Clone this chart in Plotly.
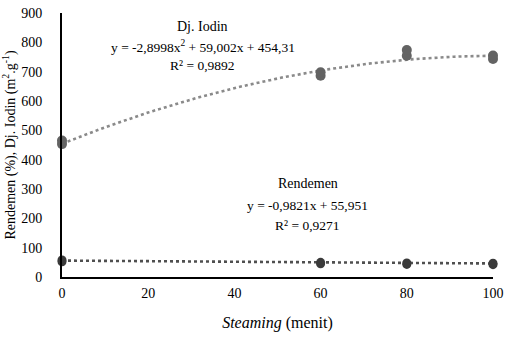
import plotly.graph_objects as go

# ---- data ----
steaming = [0, 60, 80, 100]                      # minutes
# duplicate readings per steaming time
iodin_rep1 = [453, 686, 754, 743]
iodin_rep2 = [465, 698, 774, 755]
rend_rep1 = [52, 45, 43, 42]
rend_rep2 = [58, 50, 48, 47]

# trendline equations printed on the chart (x in tens of minutes)
iodin_coef = [-2.8998, 59.002, 454.31]          # a, b, c of ax^2 + bx + c
rend_coef = [-0.9821, 55.951]                    # slope, intercept
x_ticks = [0, 20, 40, 60, 80, 100]
y_ticks = [0, 100, 200, 300, 400, 500, 600, 700, 800, 900]

iodin_label = ["Dj. Iodin", "y = -2,8998x<sup>2</sup> + 59,002x + 454,31", "R² = 0,9892"]
rend_label = ["Rendemen", "y = -0,9821x + 55,951", "R² = 0,9271"]

FONT = "Liberation Serif, serif"

xs = [i for i in range(0, 101)]
iodin_fit = [iodin_coef[0] * (x / 10) ** 2 + iodin_coef[1] * (x / 10) + iodin_coef[2] for x in xs]
rend_fit = [rend_coef[0] * (x / 10) + rend_coef[1] for x in xs]

fig = go.Figure()
fig.add_trace(go.Scatter(x=xs, y=iodin_fit, mode="lines",
                         line=dict(color="#8a8a8a", width=2.6, dash="dot"),
                         showlegend=False, hoverinfo="skip"))
fig.add_trace(go.Scatter(x=xs, y=rend_fit, mode="lines",
                         line=dict(color="#4f4f4f", width=2.6, dash="dot"),
                         showlegend=False, hoverinfo="skip"))
for reps in (iodin_rep1, iodin_rep2):
    fig.add_trace(go.Scatter(x=steaming, y=reps, mode="markers",
                             marker=dict(color="#636363", size=10),
                             showlegend=False, cliponaxis=False))
for reps in (rend_rep1, rend_rep2):
    fig.add_trace(go.Scatter(x=steaming, y=reps, mode="markers",
                             marker=dict(color="#3a3a3a", size=9),
                             showlegend=False, cliponaxis=False))

# annotation lines (paper positions), each line placed separately
def add_block(lines, xc, ys, sizes):
    for txt, yy, sz in zip(lines, ys, sizes):
        fig.add_annotation(x=xc, y=yy, xref="paper", yref="paper",
                           xanchor="center", yanchor="middle", showarrow=False,
                           text=txt, font=dict(family=FONT, size=sz, color="black"))

add_block(iodin_label, 0.326, [0.95, 0.872, 0.80], [14, 13.5, 13.5])
add_block(rend_label, 0.57, [0.355, 0.272, 0.196], [14, 13.5, 13.5])

fig.update_layout(
    width=505, height=350,
    margin=dict(l=62, r=12, t=13, b=73),
    paper_bgcolor="white", plot_bgcolor="white",
    font=dict(family=FONT, size=14, color="black"),
    xaxis=dict(range=[0, 100], tickvals=x_ticks, showgrid=False, zeroline=False,
               showline=True, linecolor="black", linewidth=2, ticks="",
               automargin=False, ticklabelstandoff=2,
               tickfont=dict(family=FONT, size=14),
               title=dict(text="<i>Steaming</i> (menit)", font=dict(family=FONT, size=16),
                          standoff=17)),
    yaxis=dict(range=[0, 900], tickvals=y_ticks, showgrid=False, zeroline=False,
               showline=True, linecolor="black", linewidth=2, ticks="",
               automargin=False, ticklabelstandoff=15,
               tickfont=dict(family=FONT, size=14),
               title=dict(text="Rendemen (%), Dj. Iodin (m<sup>2</sup>.g<sup>-1</sup>)",
                          font=dict(family=FONT, size=14), standoff=4)),
)

fig.write_html("out.html", config={"displayModeBar": False},
               post_script="document.body.style.margin='0';")
